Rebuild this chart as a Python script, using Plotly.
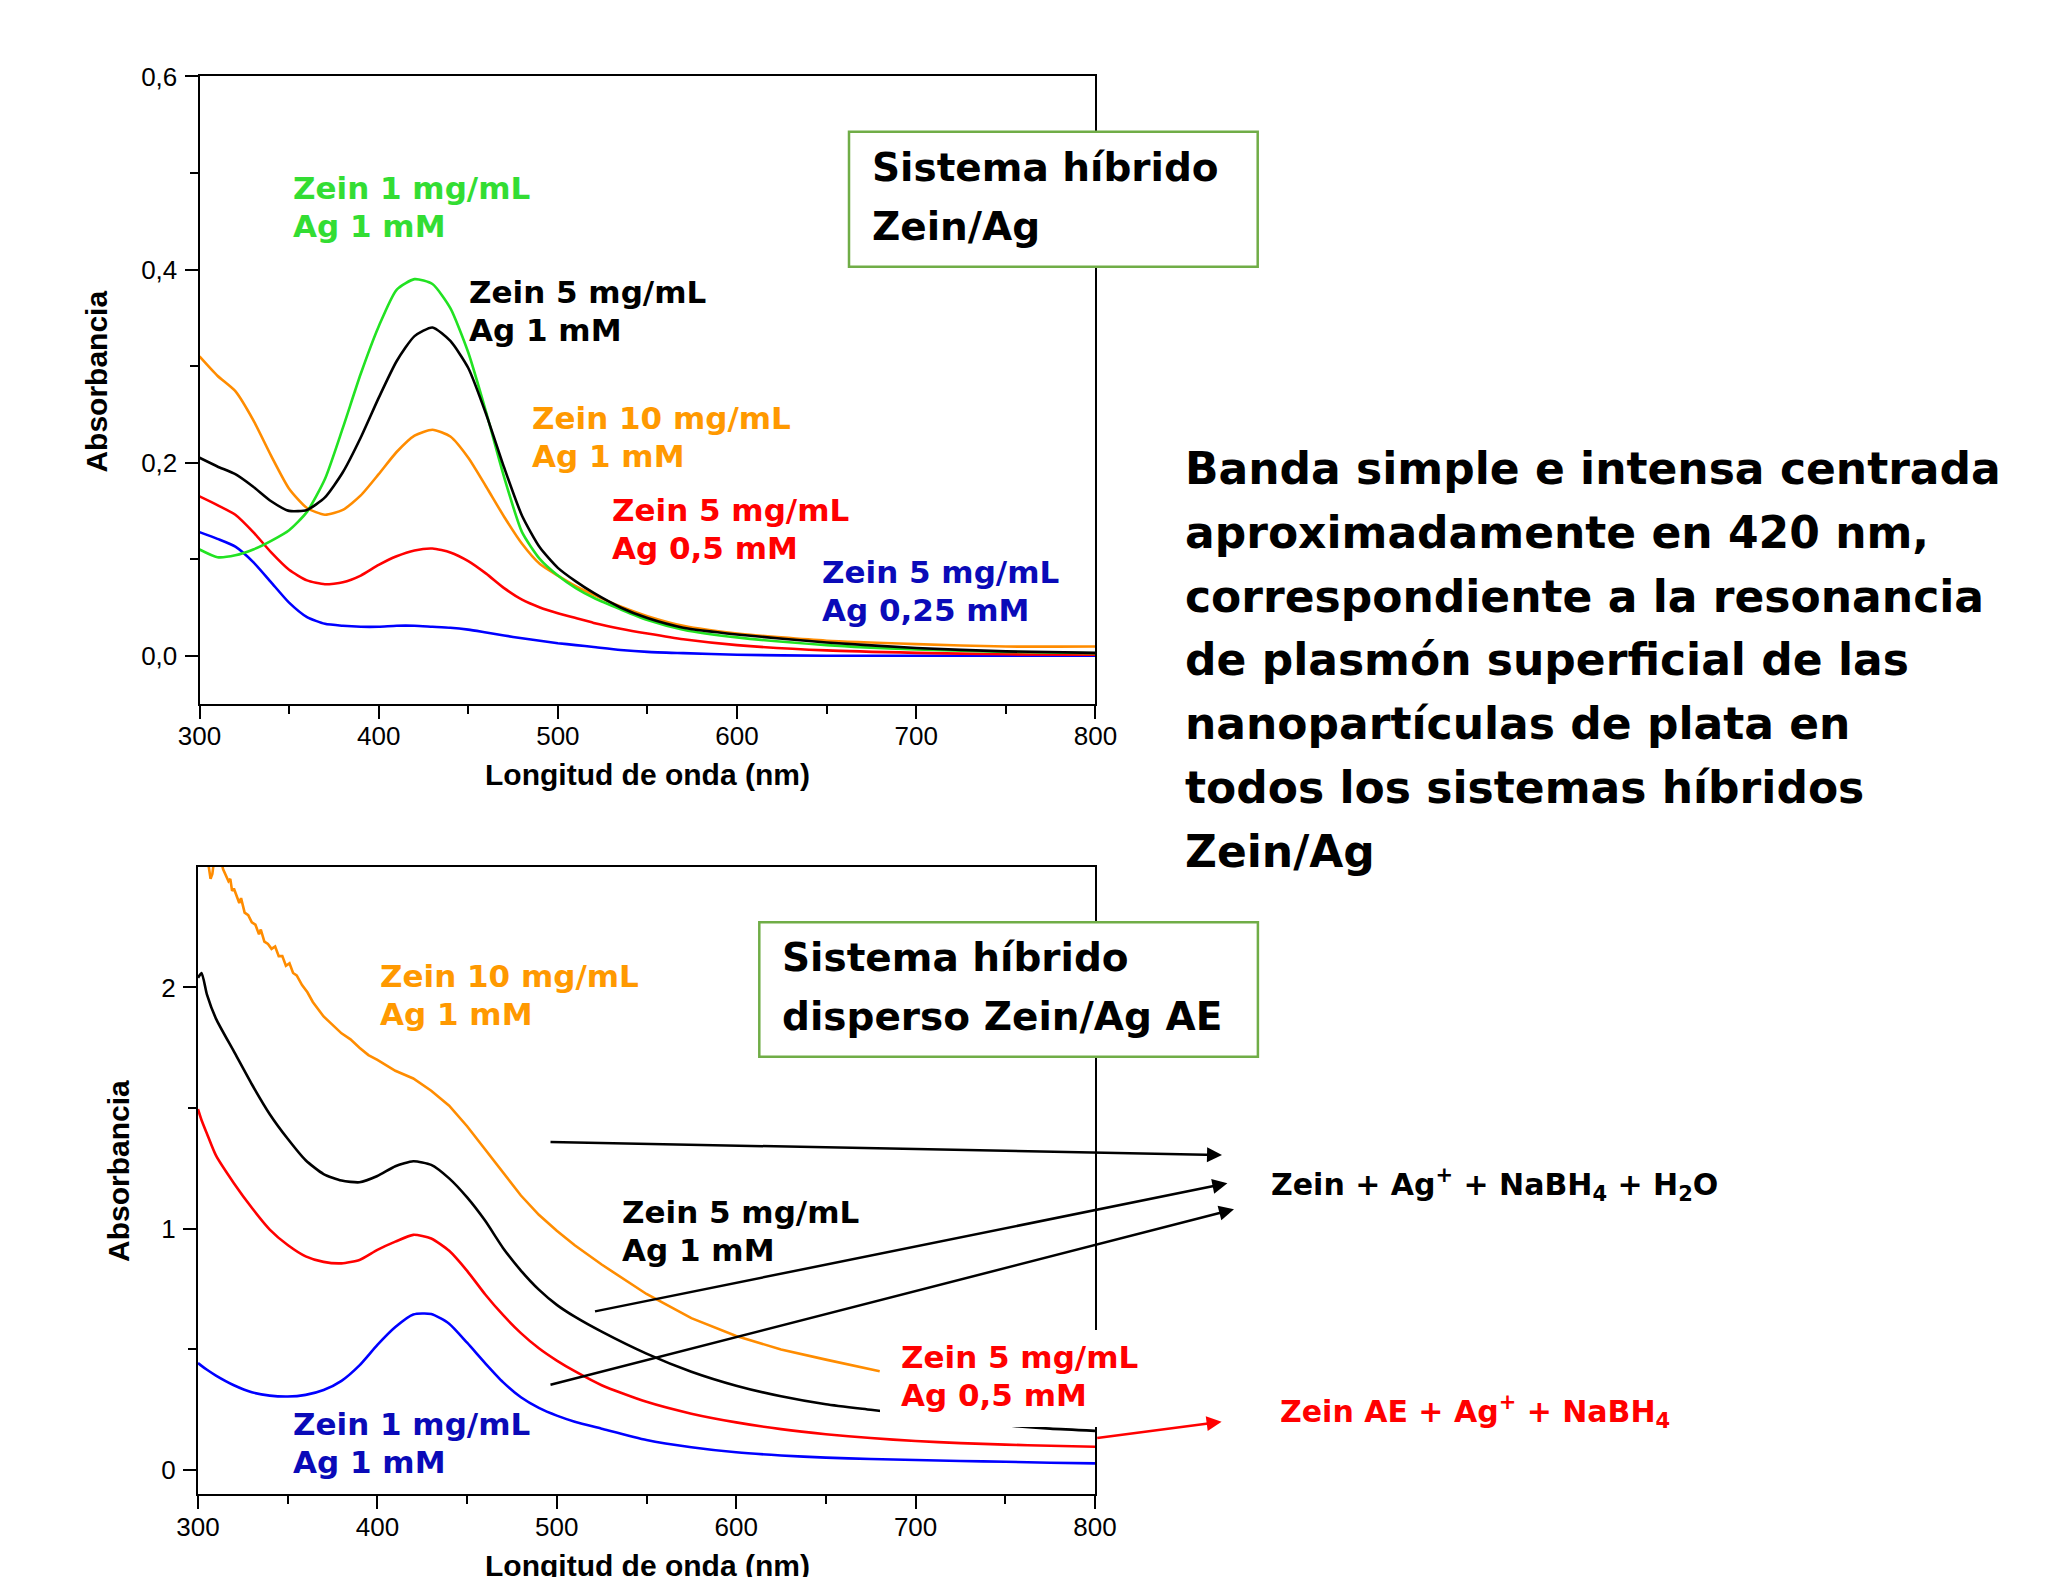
import plotly.graph_objects as go

W, H = 2062, 1577

# ---------------- data: top panel (Sistema híbrido Zein/Ag) ----------------
wl_top = [300, 310, 320, 330, 340, 350, 360, 370, 380, 390, 400, 410, 420, 430,
          440, 450, 460, 470, 480, 490, 500, 510, 520, 535, 550, 570, 600, 650,
          700, 750, 800]
top_green = [0.110, 0.102, 0.104, 0.110, 0.119, 0.130, 0.149, 0.183, 0.236, 0.292,
             0.341, 0.379, 0.390, 0.385, 0.360, 0.314, 0.252, 0.185, 0.128, 0.100,
             0.083, 0.070, 0.060, 0.048, 0.037, 0.027, 0.019, 0.011, 0.0065, 0.004,
             0.0025]
top_black = [0.205, 0.196, 0.188, 0.175, 0.160, 0.150, 0.151, 0.164, 0.190, 0.226,
             0.267, 0.305, 0.331, 0.340, 0.326, 0.298, 0.250, 0.195, 0.145, 0.112,
             0.091, 0.077, 0.065, 0.050, 0.039, 0.029, 0.022, 0.0137, 0.008, 0.0045,
             0.003]
top_orange = [0.310, 0.290, 0.274, 0.244, 0.207, 0.173, 0.153, 0.146, 0.151, 0.166,
              0.188, 0.211, 0.228, 0.234, 0.227, 0.205, 0.175, 0.144, 0.116, 0.095,
              0.083, 0.072, 0.063, 0.051, 0.041, 0.031, 0.023, 0.0155, 0.012, 0.0095,
              0.0096]
top_red = [0.165, 0.156, 0.146, 0.128, 0.107, 0.089, 0.078, 0.074, 0.076, 0.083,
           0.094, 0.103, 0.109, 0.111, 0.107, 0.098, 0.085, 0.070, 0.058, 0.050,
           0.044, 0.039, 0.034, 0.028, 0.023, 0.017, 0.011, 0.0055, 0.003, 0.0015,
           0.001]
top_blue = [0.128, 0.121, 0.113, 0.097, 0.076, 0.055, 0.040, 0.033, 0.031, 0.030,
            0.030, 0.031, 0.031, 0.030, 0.029, 0.027, 0.024, 0.021, 0.018, 0.0155,
            0.013, 0.011, 0.009, 0.006, 0.004, 0.0027, 0.001, 0.0, 0.0, 0.0, 0.0]

# ---------------- data: bottom panel (Sistema híbrido disperso Zein/Ag AE) ----------------
wl_bot = [300, 302, 305, 310, 320, 330, 340, 350, 360, 370, 380, 390, 400, 410,
          420, 430, 440, 450, 460, 470, 480, 490, 500, 510, 525, 550, 575, 600,
          625, 650, 675, 700, 725, 750, 775, 800]
bot_black = [2.04, 2.06, 1.97, 1.871, 1.735, 1.599, 1.475, 1.373, 1.284, 1.227,
             1.200, 1.193, 1.219, 1.259, 1.280, 1.265, 1.209, 1.130, 1.034, 0.921,
             0.827, 0.748, 0.685, 0.636, 0.574, 0.483, 0.408, 0.350, 0.306, 0.273,
             0.250, 0.228, 0.206, 0.186, 0.172, 0.163]
bot_red = [1.496, 1.45, 1.394, 1.304, 1.189, 1.087, 0.997, 0.933, 0.886, 0.863,
           0.857, 0.871, 0.913, 0.947, 0.975, 0.960, 0.909, 0.826, 0.729, 0.643,
           0.568, 0.505, 0.454, 0.410, 0.352, 0.283, 0.234, 0.198, 0.170, 0.149,
           0.133, 0.121, 0.112, 0.106, 0.101, 0.097]
bot_blue = [0.444, 0.432, 0.416, 0.392, 0.352, 0.323, 0.309, 0.305, 0.312, 0.332,
            0.370, 0.434, 0.519, 0.593, 0.645, 0.647, 0.607, 0.528, 0.444, 0.365,
            0.302, 0.258, 0.226, 0.201, 0.172, 0.125, 0.095, 0.074, 0.061, 0.052,
            0.046, 0.042, 0.038, 0.035, 0.031, 0.028]
wl_bot_orange = [300, 302, 304, 306, 307, 308, 309, 311, 313, 314, 316, 317, 318,
                 319, 320, 322, 323, 324, 326, 328, 330, 332, 334, 335, 337, 339,
                 341, 343, 345, 347, 349, 351, 353, 355, 358, 361, 364, 367, 370,
                 375, 380, 385, 390, 395, 400, 410, 420, 430, 440, 450, 460, 470,
                 480, 490, 500, 510, 525, 550, 575, 600, 625, 650, 680]
bot_orange = [2.70, 2.64, 2.58, 2.50, 2.45, 2.47, 2.53, 2.56, 2.52, 2.49, 2.46, 2.44,
              2.45, 2.40, 2.41, 2.37, 2.35, 2.37, 2.31, 2.30, 2.27, 2.26, 2.22, 2.24,
              2.19, 2.18, 2.16, 2.17, 2.13, 2.13, 2.09, 2.10, 2.06, 2.05, 2.01, 1.98,
              1.94, 1.91, 1.88, 1.845, 1.81, 1.785, 1.75, 1.72, 1.70, 1.655, 1.623,
              1.572, 1.51, 1.425, 1.328, 1.232, 1.138, 1.058, 0.992, 0.932, 0.852,
              0.730, 0.630, 0.556, 0.500, 0.458, 0.41]

# ---------------- ticks ----------------
x_ticks = [300, 400, 500, 600, 700, 800]
x_ticktext = ["300", "400", "500", "600", "700", "800"]
x_minor = [350, 450, 550, 650, 750]
top_y_ticks = [0.0, 0.2, 0.4, 0.6]
top_y_ticktext = ["0,0", "0,2", "0,4", "0,6"]
top_y_minor = [0.1, 0.3, 0.5]
bot_y_ticks = [0, 1, 2]
bot_y_ticktext = ["0", "1", "2"]
bot_y_minor = [0.5, 1.5]

# ---------------- styles ----------------
GREEN = "#22e222"
BLACK = "#000000"
ORANGE = "#ff8c00"
RED = "#ff0000"
BLUE = "#0000ff"
T_GREEN = "#33dd33"
T_ORANGE = "#ff9900"
T_BLUE = "#0a0ab8"
BOXGREEN = "#70ad47"
LBL_FONT = "DejaVu Sans"
AX_FONT = "Liberation Sans"


def px(x):
    return x / W


def py(y):
    return 1 - y / H


fig = go.Figure()


def add_curve(x, y, color, xa, ya, shape="spline"):
    fig.add_trace(go.Scatter(
        x=x, y=y, mode="lines", xaxis=xa, yaxis=ya, showlegend=False,
        hoverinfo="skip",
        line=dict(color=color, width=2.6, shape=shape, smoothing=0.6 if shape == "spline" else None),
    ))


add_curve(wl_top, top_blue, BLUE, "x", "y")
add_curve(wl_top, top_red, RED, "x", "y")
add_curve(wl_top, top_orange, ORANGE, "x", "y")
add_curve(wl_top, top_green, GREEN, "x", "y")
add_curve(wl_top, top_black, BLACK, "x", "y")

add_curve(wl_bot, bot_blue, BLUE, "x2", "y2")
add_curve(wl_bot, bot_red, RED, "x2", "y2")
add_curve(wl_bot_orange, bot_orange, ORANGE, "x2", "y2", shape="linear")
add_curve(wl_bot, bot_black, BLACK, "x2", "y2")

tickfont = dict(family=AX_FONT, size=26, color="black")


def xaxis_cfg(domain, anchor):
    return dict(
        domain=domain, anchor=anchor, range=[300, 800], automargin=False,
        tickmode="array", tickvals=x_ticks, ticktext=x_ticktext,
        ticks="outside", ticklen=13, tickwidth=2, tickcolor="black",
        showline=True, linewidth=2, linecolor="black", mirror=True,
        showgrid=False, zeroline=False, tickfont=tickfont,
        ticklabelstandoff=-5,
        minor=dict(tickmode="array", tickvals=x_minor, ticks="outside",
                   ticklen=8, tickwidth=2, tickcolor="black", showgrid=False),
    )


def yaxis_cfg(domain, anchor, rng, tv, tt, mv):
    return dict(
        domain=domain, anchor=anchor, range=rng, automargin=False,
        tickmode="array", tickvals=tv, ticktext=tt,
        ticks="outside", ticklen=13, tickwidth=2, tickcolor="black",
        showline=True, linewidth=2, linecolor="black", mirror=True,
        showgrid=False, zeroline=False, tickfont=tickfont,
        ticklabelstandoff=2,
        minor=dict(tickmode="array", tickvals=mv, ticks="outside",
                   ticklen=8, tickwidth=2, tickcolor="black", showgrid=False),
    )


fig.update_layout(
    width=W, height=H, margin=dict(l=0, r=0, t=0, b=0, pad=0, autoexpand=False),
    paper_bgcolor="white", plot_bgcolor="white", showlegend=False,
    xaxis=xaxis_cfg([px(199.5), px(1095.4)], "y"),
    yaxis=yaxis_cfg([py(704), py(76.4)], "x", [-0.05, 0.6],
                    top_y_ticks, top_y_ticktext, top_y_minor),
    xaxis2=xaxis_cfg([px(198), px(1095)], "y2"),
    yaxis2=yaxis_cfg([py(1494.3), py(866.8)], "x2", [-0.1, 2.5],
                     bot_y_ticks, bot_y_ticktext, bot_y_minor),
)

shapes = []
annotations = []


def rect(x0, y0, x1, y1, line_color=None, lw=0):
    shapes.append(dict(
        type="rect", xref="paper", yref="paper", layer="above",
        x0=px(x0), x1=px(x1), y0=py(y1), y1=py(y0),
        fillcolor="white",
        line=dict(color=line_color if line_color else "white", width=lw if lw else 0),
    ))


def text(x_left, baseline, s, size, color, family=LBL_FONT, weight=700):
    yc = baseline - 0.346 * size
    annotations.append(dict(
        text=s, x=px(x_left), y=py(yc), xref="paper", yref="paper",
        xanchor="left", yanchor="middle", showarrow=False, align="left",
        font=dict(family=family, size=size, color=color, weight=weight),
        borderpad=0,
    ))


def label2(x_left, baseline, l1, l2, color, size=31, gap=37.8):
    text(x_left, baseline, l1, size, color)
    text(x_left, baseline + gap, l2, size, color)


def arrow(tail, head, color):
    annotations.append(dict(
        text="", x=px(head[0]), y=py(head[1]), xref="paper", yref="paper",
        ax=tail[0] - head[0], ay=tail[1] - head[1], axref="pixel", ayref="pixel",
        showarrow=True, arrowhead=2, arrowsize=1.2, arrowwidth=2.5,
        arrowcolor=color, standoff=0, startstandoff=0,
    ))


# ---- boxes ----
rect(849, 131.7, 1257.7, 266.7, BOXGREEN, 2.5)
text(870.7, 181, "Sistema híbrido", 39, "black")
text(870.7, 240, "Zein/Ag", 39, "black")

rect(759.3, 922.3, 1257.9, 1056.7, BOXGREEN, 2.5)
text(780.5, 971, "Sistema híbrido", 39, "black")
text(780.5, 1030, "disperso Zein/Ag AE", 39, "black")

# white patch behind the red label of the bottom panel
rect(880, 1330, 1140, 1427)

# ---- curve labels: top ----
label2(291.5, 199, "Zein 1 mg/mL", "Ag 1 mM", T_GREEN)
label2(468.3, 302.5, "Zein 5 mg/mL", "Ag 1 mM", "black")
label2(531.4, 428.5, "Zein 10 mg/mL", "Ag 1 mM", T_ORANGE)
label2(610.7, 520.5, "Zein 5 mg/mL", "Ag 0,5 mM", RED)
label2(821.1, 582.5, "Zein 5 mg/mL", "Ag 0,25 mM", T_BLUE)

# ---- curve labels: bottom ----
label2(379.2, 987, "Zein 10 mg/mL", "Ag 1 mM", T_ORANGE)
label2(621.2, 1223, "Zein 5 mg/mL", "Ag 1 mM", "black")
label2(899.7, 1367.5, "Zein 5 mg/mL", "Ag 0,5 mM", RED)
label2(291.5, 1434.5, "Zein 1 mg/mL", "Ag 1 mM", T_BLUE)

# ---- paragraph ----
para = [
    "Banda simple e intensa centrada",
    "aproximadamente en 420 nm,",
    "correspondiente a la resonancia",
    "de plasmón superficial de las",
    "nanopartículas de plata en",
    "todos los sistemas híbridos",
    "Zein/Ag",
]
for i, line in enumerate(para):
    text(1184, 483.8 + i * 63.8, line, 44, "black")

# ---- reaction labels ----
text(1269.6, 1195, "Zein + Ag<sup>+</sup> + NaBH<sub>4</sub> + H<sub>2</sub>O", 30, "black")
text(1278.6, 1422.3, "Zein AE + Ag<sup>+</sup> + NaBH<sub>4</sub>", 30, RED)

# ---- arrows ----
arrow((549, 1142), (1222, 1155), "black")
arrow((593.5, 1311.7), (1227.4, 1183.3), "black")
arrow((549, 1385.2), (1234, 1209.3), "black")
arrow((1095.7, 1438.3), (1221.6, 1421.7), RED)


# ---- axis titles ----
def axis_title(xc, yc, s, angle=0):
    annotations.append(dict(
        text=s, x=px(xc), y=py(yc), xref="paper", yref="paper",
        xanchor="center", yanchor="middle", showarrow=False, textangle=angle,
        font=dict(family=AX_FONT, size=30, color="black", weight=700),
    ))


axis_title(647, 775, "Longitud de onda (nm)")
axis_title(97, 381.6, "Absorbancia", -90)
axis_title(647, 1565, "Longitud de onda (nm)")
axis_title(118, 1171, "Absorbancia", -90)

fig.update_layout(shapes=shapes, annotations=annotations)

fig.write_html(
    "out.html",
    config={"displayModeBar": False},
    post_script="document.body.style.margin='0px';document.body.style.overflow='hidden';",
)
